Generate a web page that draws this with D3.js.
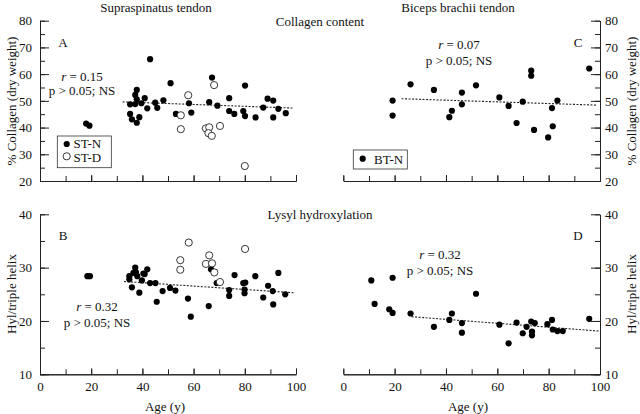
<!DOCTYPE html>
<html><head><meta charset="utf-8">
<script src="https://cdn.jsdelivr.net/npm/d3@7"></script>
<style>
html,body{margin:0;padding:0;background:#fff;}
svg text{font-family:"Liberation Serif","Times New Roman",serif;fill:#111;}
</style></head>
<body><svg id="c" width="640" height="414"></svg>
<script>
// ---- data ----
const stN_age_A = [18.0,19.3,43.0,51.0,37.8,37.2,37.8,40.9,35.2,37.2,39.6,41.9,45.0,45.8,48.2,35.2,35.9,37.8,38.8,58.2,53.1,59.1,67.2,80.1,66.1,69.3,73.9,73.9,75.9,79.4,80.1,84.2,87.2,88.9,91.1,91.1,93.1,96.0];
const stN_col_A = [41.5,40.7,65.6,56.6,54.1,52.2,50.6,51.0,48.7,48.8,49.1,47.2,49.3,47.4,50.2,45.1,43.1,41.8,43.9,49.1,45.1,45.6,58.7,55.7,49.5,48.2,51.0,46.2,45.1,46.2,44.3,43.8,47.5,50.8,50.1,43.8,47.0,45.4];
const stD_age_A = [57.9,55.0,55.0,68.0,64.8,66.1,65.8,67.1,70.3,80.0];
const stD_col_A = [52.1,44.6,39.4,55.9,39.7,40.1,37.9,36.9,40.6,25.6];

const stN_age_B = [18.5,19.5,34.9,34.9,37.2,37.5,38.0,39.8,40.9,41.9,35.9,38.8,43.0,45.1,45.6,47.9,50.8,52.9,57.8,58.9,65.9,66.8,69.0,73.9,73.9,76.0,79.4,79.9,79.9,80.2,84.1,87.2,89.1,90.9,91.1,93.1,95.8,36.5,40.4];
const stN_hyl_B = [28.4,28.4,28.4,27.8,30.0,29.1,28.4,27.6,28.8,29.7,26.3,25.3,27.1,27.1,23.6,25.6,26.2,25.7,24.2,20.8,22.8,29.7,27.1,24.7,25.8,28.6,27.1,25.9,25.2,27.2,28.4,24.4,26.6,25.6,23.1,29.0,25.0,29.0,28.9];
const stD_age_B = [54.8,54.8,58.1,64.8,66.1,67.2,68.1,70.3,80.1];
const stD_hyl_B = [31.4,29.6,34.7,30.7,32.3,30.8,29.1,27.3,33.5];

const btN_age_C = [19.2,19.2,26.2,35.3,41.3,42.3,46.2,46.2,51.7,60.8,64.4,67.5,69.9,73.2,73.2,74.3,79.8,81.3,81.6,83.4,95.8];
const btN_col_C = [50.1,44.5,56.2,54.1,43.9,46.3,53.1,48.7,55.8,51.3,48.1,41.7,49.7,61.3,59.4,39.1,36.3,47.3,40.5,50.1,62.1];

const btN_age_D = [10.9,19.2,12.2,17.9,19.2,26.2,35.3,41.3,42.3,46.2,46.2,51.7,60.8,64.4,67.5,69.9,71.4,73.2,73.5,73.5,74.6,79.5,81.3,81.6,83.4,85.5,95.8];
const btN_hyl_D = [27.6,28.1,23.2,22.2,21.5,21.4,18.9,20.2,21.4,19.6,17.8,25.1,19.3,15.8,19.7,17.7,18.9,19.9,18.0,17.3,19.6,19.4,20.2,18.4,18.1,18.1,20.4];

const trendA = [[32.3,49.6],[99,47.3]];
const trendB = [[32.8,27.4],[99,25.3]];
const trendC = [[22.7,50.8],[98.7,48.4]];
const trendD = [[26.6,20.8],[99.7,18.1]];

const colTicks = [20,30,40,50,60,70,80];
const hylTicks = [10,20,30,40];
const ageTicks = [0,20,40,60,80,100];

// ---- layout ----
const svg = d3.select("#c");
const xL = d3.scaleLinear().domain([0,100]).range([40,296]);
const xR = d3.scaleLinear().domain([0,100]).range([343.3,600]);
const yTop = d3.scaleLinear().domain([20,80]).range([181,20.7]);
const yBot = d3.scaleLinear().domain([10,40]).range([374.3,214.3]);
const FS = 13;

function xAxis(x, y, labels){
  const g = svg.append("g").attr("transform",`translate(0,${y.range()[0]})`);
  g.call(d3.axisBottom(x).tickValues(d3.range(0,101,10)).tickSizeInner(-5).tickSizeOuter(0).tickFormat(""));
  const g2 = svg.append("g").attr("transform",`translate(0,${y.range()[0]})`);
  g2.call(d3.axisBottom(x).tickValues(ageTicks).tickSizeInner(-6).tickSizeOuter(0).tickPadding(7)
     .tickFormat(labels ? d3.format("d") : ""));
  [g,g2].forEach(gg=>{gg.selectAll("text").attr("font-size",FS).attr("font-family","Liberation Serif");
    gg.selectAll("path,line").attr("stroke","#222");});
}
function yAxis(y, xpos, side, major, step){
  const minor = d3.range(y.domain()[0], y.domain()[1]+0.001, step);
  const mk = side==="left" ? d3.axisLeft : d3.axisRight;
  const g = svg.append("g").attr("transform",`translate(${xpos},0)`);
  g.call(mk(y).tickValues(minor).tickSizeInner(-5).tickSizeOuter(0).tickFormat(""));
  const g2 = svg.append("g").attr("transform",`translate(${xpos},0)`);
  g2.call(mk(y).tickValues(major).tickSizeInner(-9).tickSizeOuter(0).tickPadding(side==="left"?8:5).tickFormat(d3.format("d")));
  [g,g2].forEach(gg=>{gg.selectAll("text").attr("font-size",FS).attr("font-family","Liberation Serif");
    gg.selectAll("path,line").attr("stroke","#222");});
}

xAxis(xL, yTop, false);
xAxis(xL, yBot, true);
xAxis(xR, yTop, false);
xAxis(xR, yBot, true);
yAxis(yTop, 40, "left", colTicks, 5);
yAxis(yBot, 40, "left", hylTicks, 5);
yAxis(yTop, 600, "right", colTicks, 5);
yAxis(yBot, 600, "right", hylTicks, 5);

function trend(t, x, y){
  svg.append("line").attr("x1",x(t[0][0])).attr("y1",y(t[0][1])).attr("x2",x(t[1][0])).attr("y2",y(t[1][1]))
    .attr("stroke","#222").attr("stroke-width",1.1).attr("stroke-dasharray","2,1.5");
}
trend(trendA,xL,yTop); trend(trendB,xL,yBot); trend(trendC,xR,yTop); trend(trendD,xR,yBot);

const RF = 3.1, RO = 3.6;
function pts(ages, vals, x, y, open){
  svg.append("g").selectAll("circle").data(ages).join("circle")
    .attr("cx",(d)=>x(d)).attr("cy",(d,i)=>y(vals[i]))
    .attr("r", open ? RO : RF)
    .attr("fill", open ? "#fff" : "#000")
    .attr("stroke", open ? "#222" : "none").attr("stroke-width",0.9);
}
pts(stN_age_A, stN_col_A, xL, yTop, false);
pts(stD_age_A, stD_col_A, xL, yTop, true);
pts(stN_age_B, stN_hyl_B, xL, yBot, false);
pts(stD_age_B, stD_hyl_B, xL, yBot, true);
pts(btN_age_C, btN_col_C, xR, yTop, false);
pts(btN_age_D, btN_hyl_D, xR, yBot, false);

function txt(x,y,s,anchor,size){
  return svg.append("text").attr("x",x).attr("y",y).attr("text-anchor",anchor||"middle")
    .attr("font-size",size||FS).text(s);
}
txt(156,11.5,"Supraspinatus tendon");
txt(458,11.5,"Biceps brachii tendon");
txt(320,26,"Collagen content");
txt(320,219,"Lysyl hydroxylation");
txt(165,411,"Age (y)");
txt(468,411,"Age (y)");
txt(63,47,"A"); txt(578,47,"C"); txt(63,240,"B"); txt(578,240,"D");

function stat(cx, y1, y2, rv){
  const t = svg.append("text").attr("x",cx).attr("y",y1).attr("text-anchor","middle").attr("font-size",FS);
  t.append("tspan").attr("font-style","italic").text("r");
  t.append("tspan").text(" = " + rv);
  txt(cx, y2, "p > 0.05; NS");
}
stat(82,81,95,"0.15");
stat(459,49,65,"0.07");
stat(97,311,327,"0.32");
stat(440,259,275,"0.32");

// legends
svg.append("rect").attr("x",57.3).attr("y",136).attr("width",54).attr("height",31.7).attr("fill","none").attr("stroke","#333").attr("stroke-width",0.8);
svg.append("circle").attr("cx",66.7).attr("cy",144).attr("r",RF).attr("fill","#000");
svg.append("circle").attr("cx",66.7).attr("cy",156.3).attr("r",RO).attr("fill","#fff").attr("stroke","#222").attr("stroke-width",0.9);
txt(73.5,148.3,"ST-N","start"); txt(73.5,161.8,"ST-D","start");
svg.append("rect").attr("x",353.3).attr("y",150).attr("width",54).attr("height",19).attr("fill","none").attr("stroke","#333").attr("stroke-width",0.8);
svg.append("circle").attr("cx",362.7).attr("cy",158.7).attr("r",RF).attr("fill","#000");
txt(374,163.5,"BT-N","start");

// y titles
function ytitle(x,y,s){
  svg.append("text").attr("transform",`translate(${x},${y}) rotate(-90)`).attr("text-anchor","middle").attr("font-size",FS).text(s);
}
ytitle(16,101,"% Collagen (dry weight)");
ytitle(16,294,"Hyl/triple helix");
ytitle(636,101,"% Collagen (dry weight)");
ytitle(636,294,"Hyl/triple helix");
</script></body></html>
